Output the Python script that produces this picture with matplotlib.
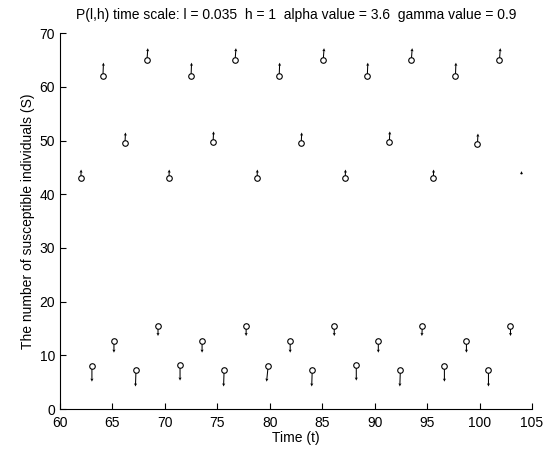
import matplotlib
matplotlib.use("Agg")
import matplotlib.pyplot as plt

plt.rcParams['font.family'] = ['Liberation Sans', 'DejaVu Sans']

# ---- data ----
time = [62.0, 63.05, 64.1, 65.15, 66.2, 67.25, 68.3, 69.35,
        70.4, 71.45, 72.5, 73.55, 74.6, 75.65, 76.7, 77.75,
        78.8, 79.85, 80.9, 81.95, 83.0, 84.05, 85.1, 86.15,
        87.2, 88.25, 89.3, 90.35, 91.4, 92.45, 93.5, 94.55,
        95.6, 96.65, 97.7, 98.75, 99.8, 100.85, 101.9, 102.95]
susceptible = [43.0, 8.0, 62.0, 12.7, 49.5, 7.2, 65.0, 15.5,
               43.0, 8.2, 62.0, 12.7, 49.7, 7.2, 65.0, 15.5,
               43.0, 8.0, 62.0, 12.7, 49.5, 7.2, 65.0, 15.5,
               43.0, 8.2, 62.0, 12.7, 49.7, 7.2, 65.0, 15.5,
               43.0, 8.0, 62.0, 12.7, 49.3, 7.2, 65.0, 15.5]
# arrow components (dt, dS) per point
du = [0.02, 0.0, 0.05, 0.0, 0.05, -0.05, 0.08, 0.0,
      0.02, 0.0, 0.05, 0.0, 0.05, -0.05, 0.08, 0.0,
      0.02, -0.15, 0.05, 0.0, 0.05, -0.05, 0.08, 0.0,
      0.02, 0.0, 0.05, 0.0, 0.05, -0.05, 0.08, -0.05,
      0.02, 0.0, 0.05, 0.0, 0.05, 0.0, 0.08, 0.0]
dv = [1.6, -2.9, 2.5, -2.2, 2.0, -3.0, 2.2, -1.9,
      1.6, -2.9, 2.5, -2.2, 2.0, -3.0, 2.2, -1.9,
      1.6, -2.9, 2.5, -2.2, 2.0, -3.0, 2.2, -1.9,
      1.6, -2.9, 2.5, -2.2, 2.0, -3.0, 2.2, -1.9,
      1.6, -2.9, 2.5, -2.2, 2.0, -3.0, 2.2, -1.9]
# final arrow (no marker)
last_t, last_s, last_u, last_v = 104.0, 43.7, 0.0, 0.6

fig = plt.figure(figsize=(5.6, 4.54), dpi=100)
ax = fig.add_axes([0.107, 0.099, 0.843, 0.828])

ax.quiver(time + [last_t], susceptible + [last_s], du + [last_u], dv + [last_v],
          angles='xy', scale_units='xy', scale=1, color='black',
          width=0.0022, headwidth=3, headlength=3, headaxislength=2.6)
ax.plot(time, susceptible, 'o', ls='none', ms=4, mfc='white', mec='black', mew=0.8)

ax.set_xlim(60, 105)
ax.set_ylim(0, 70)
ax.set_xticks(range(60, 106, 5))
ax.set_yticks(range(0, 71, 10))
ax.spines['top'].set_visible(False)
ax.spines['right'].set_visible(False)
ax.tick_params(direction='in', length=4, labelsize=10, width=0.8)
ax.tick_params(axis='x', pad=5)

ax.set_xlabel('Time (t)', fontsize=10, labelpad=1)
ax.set_ylabel('The number of susceptible individuals (S)', fontsize=10, labelpad=3)
ax.set_title('P(l,h) time scale: l = 0.035  h = 1  alpha value = 3.6  gamma value = 0.9',
             fontsize=10, pad=10)

fig.savefig('out.png', dpi=100)
